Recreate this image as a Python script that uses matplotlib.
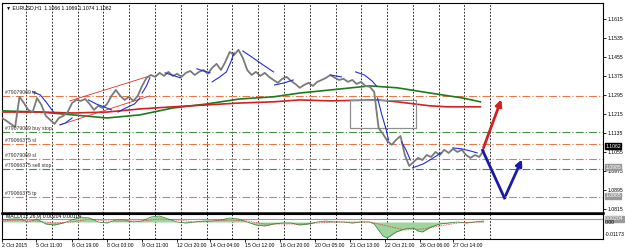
import matplotlib
matplotlib.use("Agg")
import matplotlib.pyplot as plt
import numpy as np

plt.rcParams['font.family'] = ['Liberation Sans', 'DejaVu Sans']

# EURUSD H1, close sampled every 4 bars
close = [1.1198, 1.1186, 1.1173, 1.1160, 1.1287, 1.1261, 1.1232, 1.1223, 1.1282, 1.1253,
         1.1207, 1.1190, 1.1173, 1.1198, 1.1207, 1.1223, 1.1261, 1.1274, 1.1270, 1.1278,
         1.1257, 1.1232, 1.1249, 1.1240, 1.1257, 1.1291, 1.1316, 1.1291, 1.1274, 1.1287,
         1.1270, 1.1291, 1.1333, 1.1367, 1.1379, 1.1371, 1.1388, 1.1375, 1.1392, 1.1375,
         1.1384, 1.1371, 1.1388, 1.1396, 1.1379, 1.1392, 1.1400, 1.1384, 1.1409, 1.1426,
         1.1400, 1.1434, 1.1476, 1.1463, 1.1485, 1.1451, 1.1400, 1.1379, 1.1392, 1.1375,
         1.1388, 1.1371, 1.1358, 1.1346, 1.1363, 1.1371, 1.1354, 1.1341, 1.1325, 1.1337,
         1.1346, 1.1333, 1.1350, 1.1358, 1.1367, 1.1379, 1.1367, 1.1358, 1.1363, 1.1350,
         1.1358, 1.1341, 1.1350, 1.1333, 1.1329, 1.1308, 1.1156, 1.1131, 1.1101, 1.1085,
         1.1106, 1.1122, 1.1042, 1.0996, 1.1013, 1.1030, 1.1021, 1.1042, 1.1034, 1.1055,
         1.1042, 1.1064, 1.1051, 1.1068, 1.1055, 1.1064, 1.1042, 1.1030, 1.1042, 1.1034,
         1.1062]
close_step = 4

# moving averages (bar, price)
ma_slow_bar = [0, 35, 65, 96, 126, 156, 187, 217, 248, 272, 300, 336, 361, 391, 421, 437]
ma_slow = [1.1228, 1.1223, 1.1211, 1.1198, 1.1211, 1.1240, 1.1257, 1.1278, 1.1287, 1.1303,
           1.1316, 1.1333, 1.1325, 1.1303, 1.1282, 1.1266]
ma_fast_bar = [0, 35, 65, 96, 126, 156, 187, 217, 248, 272, 300, 343, 361, 391, 407, 437]
ma_fast = [1.1223, 1.1223, 1.1219, 1.1223, 1.1236, 1.1245, 1.1253, 1.1261, 1.1266, 1.1274,
           1.1270, 1.1274, 1.1266, 1.1249, 1.1245, 1.1245]

# trailing stop segments (bar list, price list)
sar = [
    ([28, 35, 41, 47], [1.1308, 1.1295, 1.1261, 1.1223]),
    ([53, 58, 64], [1.1169, 1.1177, 1.1198]),
    ([79, 86, 93, 100], [1.1274, 1.1257, 1.1245, 1.1232]),
    ([106, 113, 121, 126], [1.1223, 1.1240, 1.1257, 1.1282]),
    ([128, 132, 135], [1.1303, 1.1333, 1.1367]),
    ([149, 155, 163], [1.1388, 1.1379, 1.1367]),
    ([178, 184, 190], [1.1405, 1.1396, 1.1388]),
    ([192, 199, 205, 209, 212], [1.1350, 1.1371, 1.1392, 1.1434, 1.1472]),
    ([220, 228, 237, 248], [1.1480, 1.1455, 1.1426, 1.1392]),
    ([249, 258, 266], [1.1337, 1.1346, 1.1358]),
    ([300, 305, 310], [1.1379, 1.1375, 1.1371]),
    ([323, 331, 338, 342], [1.1392, 1.1379, 1.1354, 1.1333]),
    ([343, 347, 351, 353], [1.1282, 1.1211, 1.1148, 1.1106]),
    ([365, 369, 373], [1.1097, 1.1064, 1.1021]),
    ([375, 385, 394, 401], [1.0988, 1.1005, 1.1030, 1.1051]),
    ([412, 420, 428, 434], [1.1072, 1.1068, 1.1059, 1.1051]),
]

# pending orders
order_labels = ["#79079069 tp", "#79079069 buy stop", "#79066375 sl",
                "#79079069 sl", "#79066375 sell stop", "#79066375 tp"]
order_prices = [1.1290, 1.1140, 1.1090, 1.1025, 1.0985, 1.0865]
order_colors = ["#e8784a", "#3f8f3f", "#e8784a", "#e8784a", "#3f8f3f", "#e8784a"]

# trend channel and box
chan_upper = ([62, 135], [1.1270, 1.1375])
chan_lower = ([53, 135], [1.1169, 1.1291])
box_bars = [318, 378]
box_prices = [1.1156, 1.1274]

# scenario arrows
up_path = ([439, 457], [1.1062, 1.1287])
down_path = ([439, 459, 476], [1.1062, 1.0861, 1.1034])

# MACD histogram and signal (bar, value)
hist_bar = [0, 8, 16, 24, 32, 40, 48, 56, 64, 72, 80, 88, 96, 104, 112, 120, 128, 136, 144,
            152, 160, 168, 176, 184, 192, 200, 208, 216, 224, 232, 240, 248, 256, 264, 272,
            280, 288, 296, 304, 312, 320, 328, 336, 340, 344, 348, 352, 356, 360, 368, 376,
            380, 384, 392, 400, 408, 416, 424, 432, 440]
hist = [0.0002, 0.0003, 0.0003, 0.0000, 0.0003, -0.0002, -0.0003, -0.0001, 0.0002, 0.0005,
        0.0004, 0.0000, -0.0001, 0.0002, 0.0002, 0.0000, 0.0001, 0.0005, 0.0006, 0.0003,
        0.0000, -0.0001, 0.0000, 0.0001, 0.0001, 0.0002, 0.0004, 0.0003, 0.0000, -0.0003,
        -0.0004, -0.0002, -0.0001, -0.0001, -0.0003, -0.0002, 0.0000, 0.0001, 0.0000, 0.0000,
        -0.0001, 0.0000, 0.0000, -0.0002, -0.0008, -0.0014, -0.0016, -0.0013, -0.0010, -0.0007,
        -0.0006, -0.0009, -0.0010, -0.0005, -0.0002, -0.0001, 0.0000, -0.0001, 0.0000, 0.0001]
sig_bar = [0, 16, 32, 48, 64, 80, 96, 112, 128, 144, 160, 176, 192, 208, 224, 240, 256, 272,
           288, 304, 320, 336, 352, 368, 384, 400, 416, 432, 440]
sig = [0.0001, 0.0002, 0.0001, -0.0001, 0.0000, 0.0003, 0.0001, 0.0001, 0.0001, 0.0003,
       0.0002, 0.0000, 0.0001, 0.0002, 0.0001, -0.0002, -0.0002, -0.0002, -0.0001, 0.0000,
       0.0000, 0.0000, -0.0004, -0.0008, -0.0007, -0.0004, -0.0001, 0.0000, 0.0000]

xtick_bars = [0, 31, 64, 96, 128, 160, 190, 222, 254, 286, 318, 350, 382, 412]
xtick_labels = ["2 Oct 2015", "5 Oct 11:00", "6 Oct 19:00", "8 Oct 03:00", "9 Oct 11:00",
                "12 Oct 20:00", "14 Oct 04:00", "15 Oct 12:00", "16 Oct 20:00", "20 Oct 05:00",
                "21 Oct 13:00", "22 Oct 21:00", "26 Oct 06:00", "27 Oct 14:00"]
price_ticks = [1.0815, 1.0895, 1.0975, 1.1055, 1.1135, 1.1215, 1.1295, 1.1375, 1.1455,
               1.1535, 1.1615]

fs = 3.7
fig = plt.figure(figsize=(6.25, 2.52), dpi=100)
ax = fig.add_axes([2 / 625, 39 / 252, 601 / 625, 210 / 252])
mx = fig.add_axes([2 / 625, 13 / 252, 601 / 625, 25 / 252], sharex=ax)

xmax = 549
grid_x = np.linspace(22, 446, 19)
for a in (ax, mx):
    for g in grid_x:
        a.axvline(g, color="black", lw=0.6, ls=(0, (2, 2)), zorder=1)

# order lines
for lab, p, c in zip(order_labels, order_prices, order_colors):
    ax.axhline(p, color=c, lw=0.8, ls=(0, (7, 2, 1, 2)), zorder=2)
    ax.text(3, p + 0.0004, lab, fontsize=fs, color="#303030", va="bottom", ha="left", zorder=6)

ax.plot(ma_slow_bar, ma_slow, color="#1f7a1f", lw=1.2, zorder=3)
ax.plot(ma_fast_bar, ma_fast, color="#d42020", lw=1.2, zorder=3)

xs = np.arange(len(close)) * close_step
ax.plot(xs, close, color="#7a7a7a", lw=1.3, zorder=4)

for bx, by in sar:
    ax.plot(bx, by, color="#2030d0", lw=0.8, zorder=5)

ax.plot(*chan_upper, color="#e03030", lw=0.6, zorder=3)
ax.plot(*chan_lower, color="#e03030", lw=0.6, zorder=3)
ax.plot([box_bars[0], box_bars[1], box_bars[1], box_bars[0], box_bars[0]],
        [box_prices[1], box_prices[1], box_prices[0], box_prices[0], box_prices[1]],
        color="#909090", lw=0.9, zorder=3)

ax.annotate("", xy=(up_path[0][1], up_path[1][1]), xytext=(up_path[0][0], up_path[1][0]),
            arrowprops=dict(arrowstyle="-|>", color="#d42020", lw=2, mutation_scale=9), zorder=6)
ax.plot(down_path[0][:2], down_path[1][:2], color="#1a1aa8", lw=2, zorder=6)
ax.annotate("", xy=(down_path[0][2], down_path[1][2]), xytext=(down_path[0][1], down_path[1][1]),
            arrowprops=dict(arrowstyle="-|>", color="#1a1aa8", lw=2, mutation_scale=9), zorder=6)

ax.set_xlim(0, xmax)
ax.set_ylim(1.0798, 1.1682)
ax.yaxis.tick_right()
ax.set_yticks(price_ticks)
ax.set_yticklabels([f"{p:.4f}" for p in price_ticks], fontsize=fs)
ax.tick_params(axis="y", length=2, width=0.6, pad=1)
ax.tick_params(axis="x", bottom=False, labelbottom=False)
for s in ax.spines.values():
    s.set_linewidth(0.8)
ax.spines["bottom"].set_linewidth(1.8)

ax.text(4, 1.1662, "\u25bc EURUSD,H1  1.1066 1.1069 1.1074 1.1062", fontsize=fs, va="center")
ax.text(xmax + 2, 1.1080, "1.1062", fontsize=fs, color="white", va="center", ha="left",
        bbox=dict(boxstyle="square,pad=0.1", fc="black", ec="black"), clip_on=False)
for p, t in [(1.0990, "1.0985"), (1.0870, "1.0865")]:
    ax.text(xmax + 2, p, t, fontsize=fs, color="white", va="center", ha="left",
            bbox=dict(boxstyle="square,pad=0.1", fc="#9a9a9a", ec="#9a9a9a"), clip_on=False)

# MACD
mx.fill_between(hist_bar, hist, 0, color="#9fd49f", lw=0, zorder=2)
mx.plot(hist_bar, hist, color="#2e7d2e", lw=0.5, zorder=3)
mx.plot(sig_bar, sig, color="#e03030", lw=0.6, ls=(0, (1, 1)), zorder=4)
mx.axhline(0.0003, color="#9a9a9a", lw=0.8, zorder=1)
mx.set_ylim(-0.0017, 0.0008)
mx.set_yticks([])
mx.text(4, 0.00055, "MACD(12,26,9) 0.00204 0.00114", fontsize=fs, va="center")
mx.text(xmax + 2, 0.0003, "0.00204", fontsize=fs, color="white", va="center", ha="left",
        bbox=dict(boxstyle="square,pad=0.1", fc="#9a9a9a", ec="#9a9a9a"), clip_on=False)
mx.text(xmax + 2, -0.0001, "0.00", fontsize=fs, va="center", ha="left", clip_on=False)
mx.text(xmax + 2, -0.0012, "-0.01173", fontsize=fs, va="center", ha="left", clip_on=False)
mx.set_xticks(xtick_bars)
mx.set_xticklabels(xtick_labels, fontsize=fs, ha="left")
mx.tick_params(axis="x", length=2, width=0.6, pad=1)
for s in mx.spines.values():
    s.set_linewidth(0.8)

fig.savefig("out.png", dpi=100)
